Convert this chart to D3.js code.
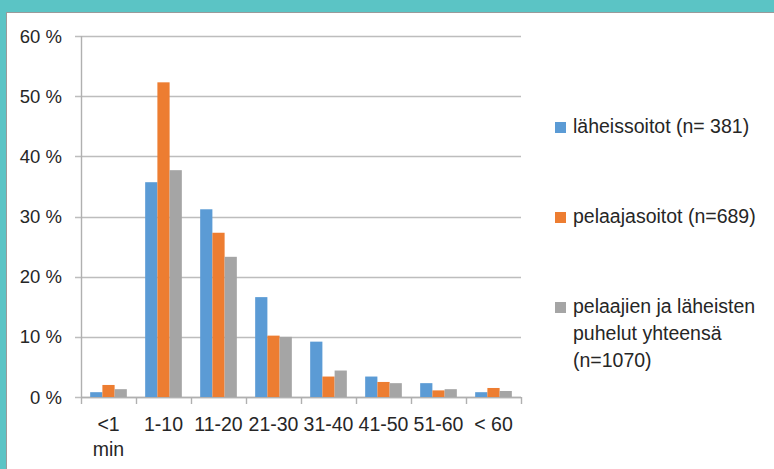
<!DOCTYPE html>
<html>
<head>
<meta charset="utf-8">
<script src="https://cdn.jsdelivr.net/npm/d3@7"></script>
<style>
  html, body { margin: 0; padding: 0; background: #5BC4C5; }
  svg { display: block; }
</style>
</head>
<body>
<svg id="chart" width="774" height="469"></svg>
<script>
// Call duration classes (minutes)
const categories = ["<1 min", "1-10", "11-20", "21-30", "31-40", "41-50", "51-60", "< 60"];
const seriesNames = ["läheissoitot (n= 381)", "pelaajasoitot (n=689)", "pelaajien ja läheisten puhelut yhteensä (n=1070)"];
// Share of calls (%) per duration class
const laheissoitot = [0.8, 35.7, 31.2, 16.6, 9.2, 3.4, 2.3, 0.8];
const pelaajasoitot = [2.0, 52.3, 27.3, 10.2, 3.4, 2.5, 1.1, 1.5];
const yhteensa = [1.3, 37.7, 23.3, 10.0, 4.4, 2.3, 1.3, 1.0];
const yTicks = [0, 10, 20, 30, 40, 50, 60];
const colors = ["#5B9BD5", "#ED7D31", "#A5A5A5"];

const series = [laheissoitot, pelaajasoitot, yhteensa];
const font = "'Liberation Sans', Arial, sans-serif";
const textColor = "#262626";

const svg = d3.select("#chart");

// white panel with thin grey edge
svg.append("rect")
  .attr("x", 6.5).attr("y", 12.5)
  .attr("width", 800).attr("height", 500)
  .attr("fill", "#ffffff")
  .attr("stroke", "#9a9a9a").attr("stroke-width", 1);

const plot = { left: 81, right: 521, top: 36, bottom: 397 };

const x = d3.scaleBand().domain(categories).range([plot.left, plot.right]).paddingInner(0).paddingOuter(0);
const barW = x.bandwidth() / 4.5;
const xs = d3.scaleBand().domain([0, 1, 2]).range([barW * 0.75, barW * 3.75]).padding(0);
const y = d3.scaleLinear().domain([0, 60]).range([plot.bottom, plot.top]);

// gridlines and y labels
const g = svg.append("g");
g.selectAll("line.grid").data(yTicks).join("line")
  .attr("class", "grid")
  .attr("x1", plot.left - 6).attr("x2", plot.right)
  .attr("y1", d => Math.round(y(d)) + 0.5).attr("y2", d => Math.round(y(d)) + 0.5)
  .attr("stroke", "#bdbdbd").attr("stroke-width", 1.4);

g.selectAll("text.ytick").data(yTicks).join("text")
  .attr("class", "ytick")
  .attr("x", 62).attr("y", d => y(d) + 6.5)
  .attr("text-anchor", "end")
  .attr("font-family", font).attr("font-size", 18.5).attr("fill", textColor)
  .text(d => d + " %");

// y axis line
g.append("line")
  .attr("x1", plot.left + 0.5).attr("x2", plot.left + 0.5)
  .attr("y1", plot.top).attr("y2", plot.bottom)
  .attr("stroke", "#b0b0b0").attr("stroke-width", 1.4);

// bars
categories.forEach((c, i) => {
  series.forEach((s, k) => {
    svg.append("rect")
      .attr("x", x(c) + xs(k))
      .attr("y", y(s[i]))
      .attr("width", xs.bandwidth())
      .attr("height", y(0) - y(s[i]))
      .attr("fill", colors[k]);
  });
});

// x axis line and ticks
g.append("line")
  .attr("x1", plot.left).attr("x2", plot.right)
  .attr("y1", plot.bottom + 0.5).attr("y2", plot.bottom + 0.5)
  .attr("stroke", "#b0b0b0").attr("stroke-width", 1.4);
const tickXs = categories.map(c => x(c)).concat([plot.right]);
g.selectAll("line.xtick").data(tickXs).join("line")
  .attr("class", "xtick")
  .attr("x1", d => d + 0.5).attr("x2", d => d + 0.5)
  .attr("y1", plot.bottom).attr("y2", plot.bottom + 7)
  .attr("stroke", "#b0b0b0").attr("stroke-width", 1.4);

// x labels (wrap "<1 min")
categories.forEach(c => {
  const lines = c === "<1 min" ? ["<1", "min"] : [c];
  const t = svg.append("text")
    .attr("text-anchor", "middle")
    .attr("font-family", font).attr("font-size", 19.5).attr("fill", textColor);
  lines.forEach((l, j) => {
    t.append("tspan").attr("x", x(c) + x.bandwidth() / 2).attr("y", 431 + j * 25).text(l);
  });
});

// legend
const legendLines = [["läheissoitot (n= 381)"], ["pelaajasoitot (n=689)"], ["pelaajien ja läheisten", "puhelut yhteensä", "(n=1070)"]];
const legendY = [133, 223, 313];
legendLines.forEach((lines, k) => {
  svg.append("rect")
    .attr("x", 555).attr("y", legendY[k] - 11)
    .attr("width", 11).attr("height", 11)
    .attr("fill", colors[k]);
  const t = svg.append("text")
    .attr("font-family", font).attr("font-size", 19.5).attr("fill", textColor);
  lines.forEach((l, j) => {
    t.append("tspan").attr("x", 573).attr("y", legendY[k] + j * 27).text(l);
  });
});
</script>
</body>
</html>
